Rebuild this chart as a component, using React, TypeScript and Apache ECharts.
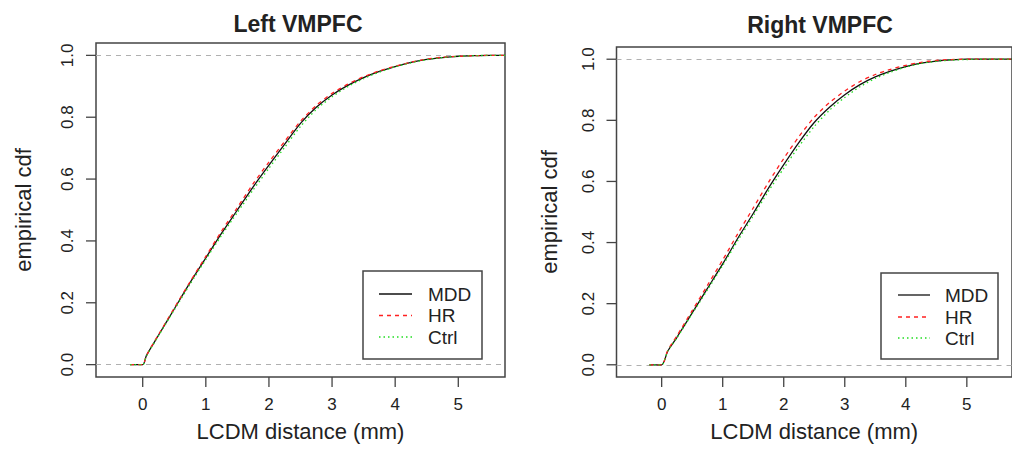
import React, { useEffect, useRef } from "react";
import * as echarts from "echarts";

const panelTitles = ["Left VMPFC", "Right VMPFC"];
const seriesNames = ["MDD", "HR", "Ctrl"];
const xTicks = [0, 1, 2, 3, 4, 5];
const yTicks = [0, 0.2, 0.4, 0.6, 0.8, 1.0];

const leftX = [-0.2, 0, 0.06, 0.25, 0.5, 0.75, 1.0, 1.25, 1.5, 1.75, 2.0, 2.25, 2.5, 2.75, 3.0, 3.25, 3.5, 3.75, 4.0, 4.25, 4.5, 4.75, 5.0, 5.25, 5.5, 5.74];
const leftMDD = [0, 0, 0.03, 0.095, 0.18, 0.265, 0.345, 0.425, 0.5, 0.575, 0.645, 0.713, 0.78, 0.832, 0.872, 0.903, 0.928, 0.948, 0.964, 0.977, 0.987, 0.993, 0.997, 0.999, 1.0, 1.0];
const leftHR = [0, 0, 0.03, 0.097, 0.183, 0.268, 0.35, 0.432, 0.508, 0.585, 0.655, 0.722, 0.787, 0.838, 0.877, 0.907, 0.931, 0.95, 0.965, 0.978, 0.988, 0.994, 0.997, 0.999, 1.0, 1.0];
const leftCtrl = [0, 0, 0.028, 0.093, 0.177, 0.26, 0.34, 0.418, 0.492, 0.565, 0.635, 0.703, 0.77, 0.825, 0.866, 0.899, 0.925, 0.946, 0.963, 0.976, 0.986, 0.993, 0.997, 0.999, 1.0, 1.0];

const rightX = [-0.2, 0, 0.1, 0.25, 0.5, 0.75, 1.0, 1.25, 1.5, 1.75, 2.0, 2.25, 2.5, 2.75, 3.0, 3.25, 3.5, 3.75, 4.0, 4.25, 4.5, 4.75, 5.0, 5.25, 5.5, 5.74];
const rightMDD = [0, 0, 0.045, 0.09, 0.17, 0.25, 0.33, 0.415, 0.495, 0.578, 0.655, 0.728, 0.793, 0.843, 0.884, 0.917, 0.942, 0.961, 0.976, 0.987, 0.994, 0.998, 1.0, 1.0, 1.0, 1.0];
const rightHR = [0, 0, 0.047, 0.095, 0.177, 0.26, 0.343, 0.43, 0.513, 0.597, 0.675, 0.747, 0.81, 0.858, 0.896, 0.927, 0.95, 0.967, 0.98, 0.99, 0.996, 0.999, 1.0, 1.0, 1.0, 1.0];
const rightCtrl = [0, 0, 0.045, 0.088, 0.167, 0.245, 0.325, 0.407, 0.487, 0.568, 0.643, 0.715, 0.78, 0.833, 0.875, 0.91, 0.937, 0.958, 0.974, 0.986, 0.993, 0.997, 0.999, 1.0, 1.0, 1.0];

const FONT = "'Liberation Sans', Arial, Helvetica, sans-serif";
const TEXT = "#222";
const FRAME = "#444";

const X_MIN = -0.74;
const X_MAX = 5.74;
const Y_MIN = -0.04;
const Y_MAX = 1.04;

const lineColors = ["#111111", "#ff2020", "#22dd22"];
const lineDashes: (number[] | null)[] = [null, [4, 4], [1.5, 3]];

export default function App() {
  const ref = useRef<HTMLDivElement>(null);
  useEffect(() => {
    if (!ref.current) return;
    const chart = echarts.init(ref.current, null, { renderer: "svg" });

    const grids = [
      { left: 96, right: 1012 - 505, top: 43, bottom: 450 - 377 },
      { left: 616.5, right: -9, top: 47, bottom: 450 - 377 },
    ];
    const nameGaps = [62, 56];

    const xAxes = grids.map((_, i) => ({
      type: "value",
      gridIndex: i,
      min: X_MIN,
      max: X_MAX,
      position: "bottom",
      name: "LCDM distance (mm)",
      nameLocation: "middle",
      nameGap: 43,
      nameTextStyle: { fontFamily: FONT, fontSize: 22, color: TEXT },
      axisLine: { show: false, onZero: false },
      axisTick: { show: false },
      axisLabel: { fontFamily: FONT, fontSize: 17, color: TEXT, margin: 19, customValues: xTicks },
      splitLine: { show: false },
    }));

    const yAxes = grids.map((_, i) => ({
      type: "value",
      gridIndex: i,
      min: Y_MIN,
      max: Y_MAX,
      position: "left",
      name: "empirical cdf",
      nameLocation: "middle",
      nameGap: nameGaps[i],
      nameTextStyle: { fontFamily: FONT, fontSize: 22, color: TEXT },
      axisLine: { show: false, onZero: false },
      axisTick: { show: false },
      axisLabel: {
        fontFamily: FONT,
        fontSize: 17,
        color: TEXT,
        rotate: 90,
        margin: 20,
        customValues: yTicks,
        formatter: (v: number) => v.toFixed(1),
      },
      splitLine: { show: false },
    }));

    const panels = [
      { x: leftX, ys: [leftMDD, leftHR, leftCtrl] },
      { x: rightX, ys: [rightMDD, rightHR, rightCtrl] },
    ];

    const series: any[] = [];
    panels.forEach((p, gi) => {
      p.ys.forEach((ys, si) => {
        series.push({
          type: "line",
          name: seriesNames[si],
          xAxisIndex: gi,
          yAxisIndex: gi,
          data: p.x.map((x, k) => [x, ys[k]]),
          showSymbol: false,
          smooth: 0.25,
          lineStyle: {
            color: lineColors[si],
            width: 1.3,
            type: lineDashes[si] ? [...(lineDashes[si] as number[])] : "solid",
          },
          z: 3 + si,
          markLine:
            si === 0
              ? {
                  silent: true,
                  symbol: "none",
                  label: { show: false },
                  lineStyle: { color: "#b0b0b0", type: [5, 5], width: 1 },
                  data: [{ yAxis: 0 }, { yAxis: 1 }],
                  z: 1,
                }
              : undefined,
        });
      });
      // outward R-style tick marks drawn through the axes' scales (custom series, not clipped)
      const tickData = [
        ...xTicks.map((t) => [t, Y_MIN, 0]),
        ...yTicks.map((t) => [X_MIN, t, 1]),
      ];
      series.push({
        type: "custom",
        xAxisIndex: gi,
        yAxisIndex: gi,
        silent: true,
        clip: false,
        z: 20,
        data: tickData,
        encode: { x: 0, y: 1 },
        renderItem: (_params: any, api: any) => {
          const c = api.coord([api.value(0), api.value(1)]);
          const isY = api.value(2) === 1;
          return {
            type: "line",
            shape: isY
              ? { x1: c[0] - 10, y1: c[1], x2: c[0], y2: c[1] }
              : { x1: c[0], y1: c[1], x2: c[0], y2: c[1] + 10 },
            style: { stroke: FRAME, lineWidth: 1.3 },
          };
        },
      });
    });

    const legends = [
      { box: [363, 271, 119, 88], lx: 379, lw: 33, tx: 428, ty: [294, 315.5, 337] },
      { box: [881, 273, 117, 86], lx: 898, lw: 32, tx: 945, ty: [295, 317, 338] },
    ];
    const graphic: any[] = [];
    legends.forEach((lg) => {
      graphic.push({
        type: "rect",
        shape: { x: lg.box[0], y: lg.box[1], width: lg.box[2], height: lg.box[3] },
        style: { fill: "#fff", stroke: FRAME, lineWidth: 1.5 },
        z: 10,
      });
      seriesNames.forEach((n, i) => {
        graphic.push({
          type: "line",
          shape: { x1: lg.lx, y1: lg.ty[i], x2: lg.lx + lg.lw, y2: lg.ty[i] },
          style: {
            stroke: lineColors[i],
            lineWidth: 1.3,
            lineDash: lineDashes[i] ? [...(lineDashes[i] as number[])] : null,
          },
          z: 11,
        });
        graphic.push({
          type: "text",
          x: lg.tx,
          y: lg.ty[i],
          style: {
            text: n,
            fontFamily: FONT,
            fontSize: 19,
            fill: TEXT,
            verticalAlign: "middle",
          },
          z: 11,
        });
      });
    });

    chart.setOption({
      animation: false,
      backgroundColor: "#fff",
      title: [
        {
          text: panelTitles[0],
          left: 293,
          top: 7,
          textAlign: "center",
          textStyle: { fontFamily: FONT, fontSize: 23, fontWeight: "bold", color: TEXT },
        },
        {
          text: panelTitles[1],
          left: 815,
          top: 8,
          textAlign: "center",
          textStyle: { fontFamily: FONT, fontSize: 23, fontWeight: "bold", color: TEXT },
        },
      ],
      grid: grids.map((g) => ({ ...g, show: true, borderColor: FRAME, borderWidth: 1.5, backgroundColor: "transparent" })),
      xAxis: xAxes,
      yAxis: yAxes,
      series,
      graphic,
    });

    return () => chart.dispose();
  }, []);
  return (
    <div
      ref={ref}
      style={{ position: "fixed", left: 0, top: 0, width: 1012, height: 450, background: "#fff" }}
    />
  );
}
